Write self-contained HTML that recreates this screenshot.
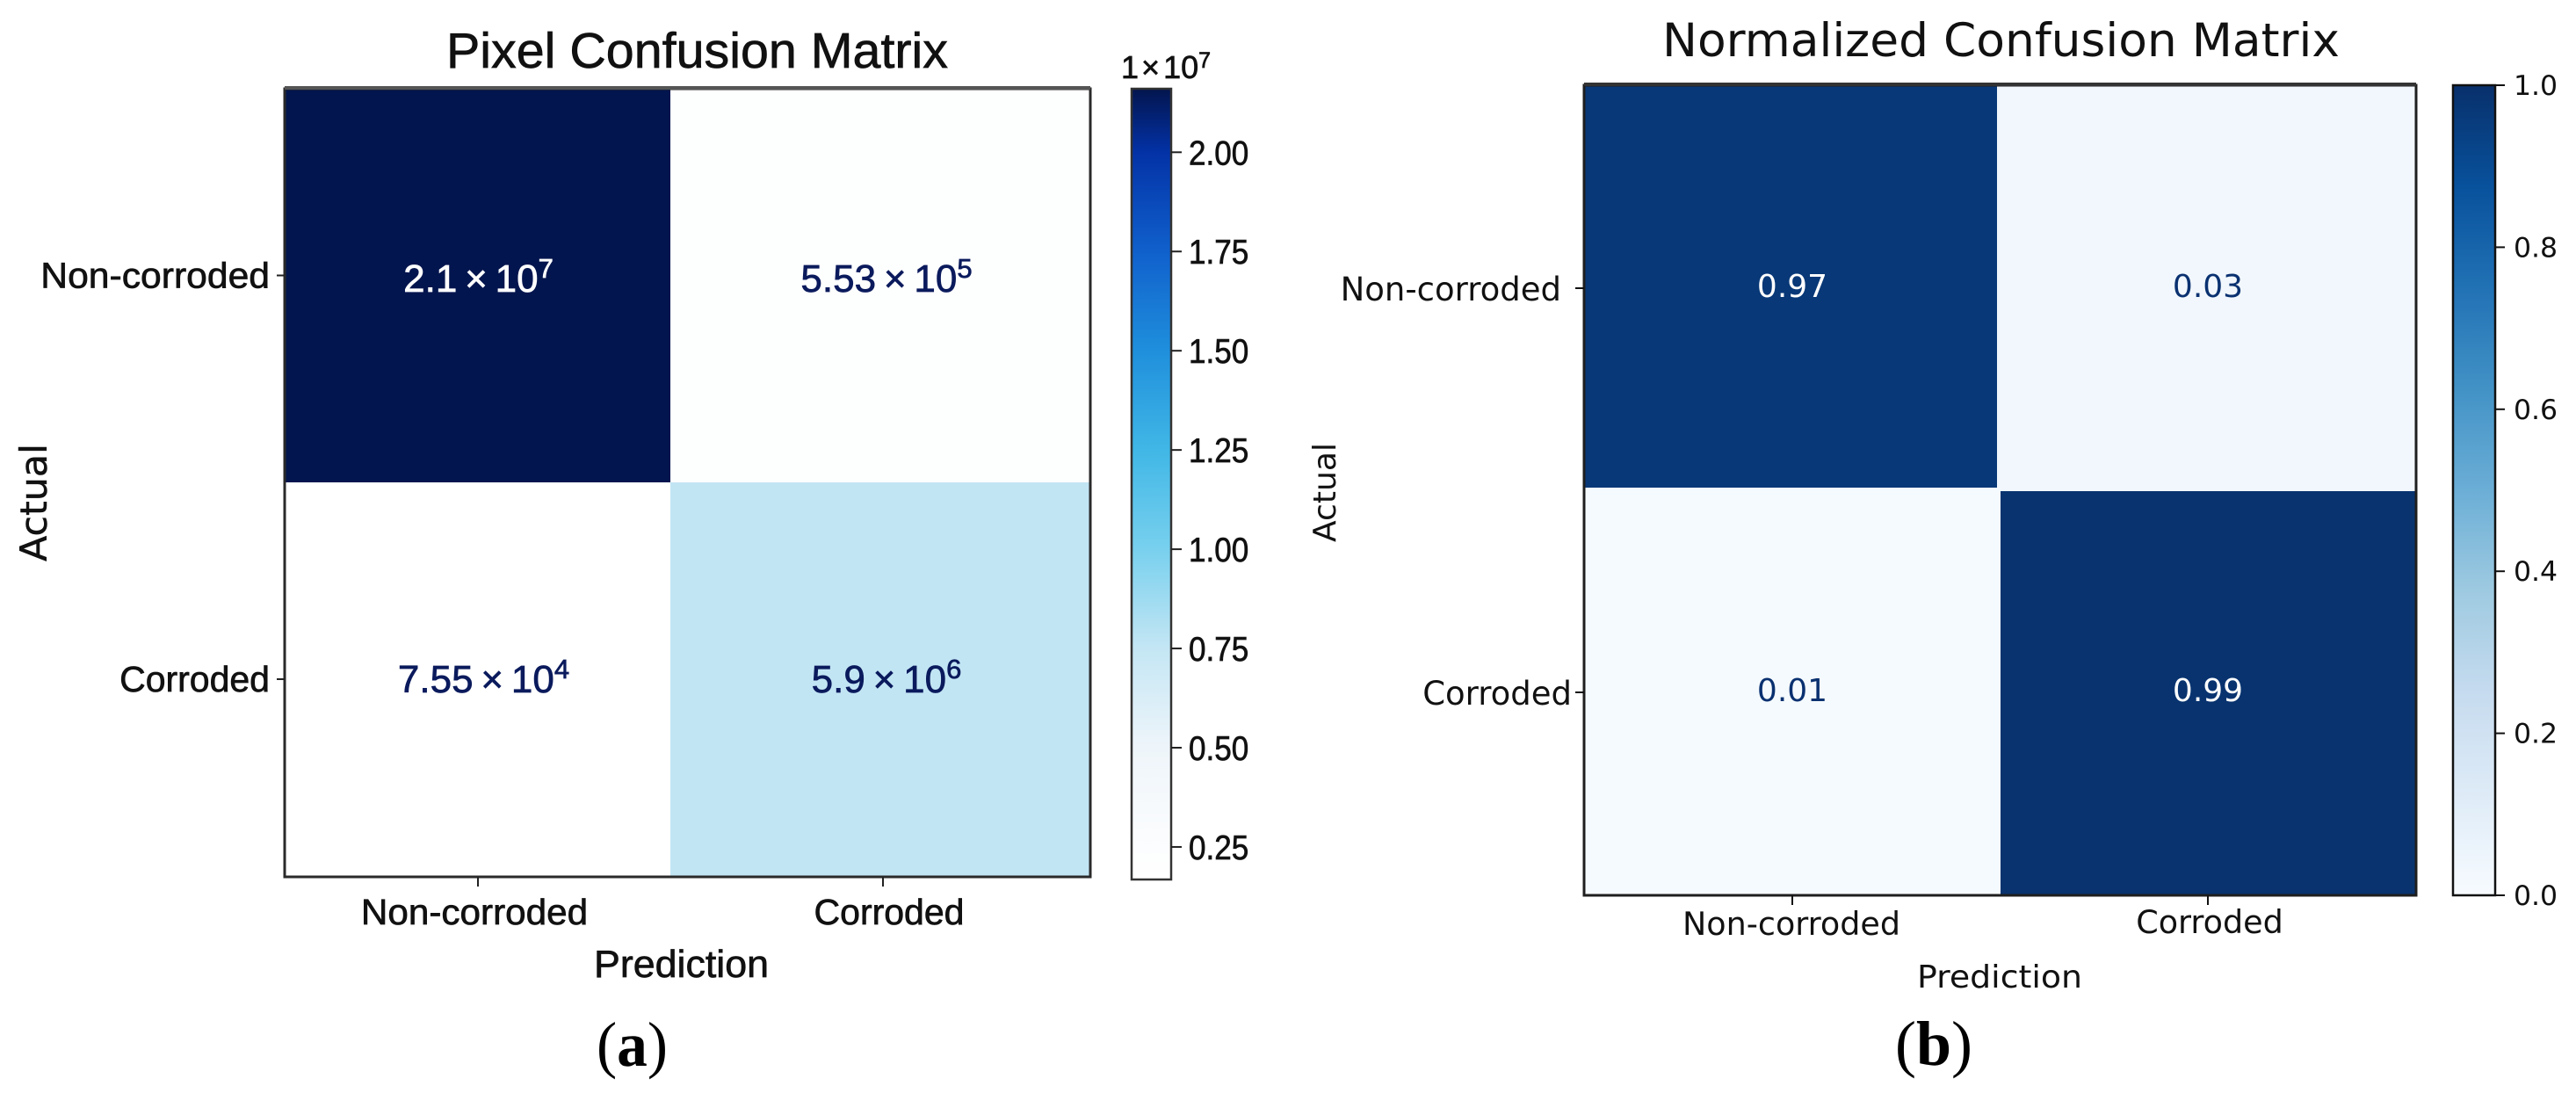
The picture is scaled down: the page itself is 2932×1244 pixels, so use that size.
<!DOCTYPE html>
<html lang="en">
<head>
<meta charset="utf-8">
<title>Confusion matrices</title>
<style>
html,body{margin:0;padding:0;background:#fff;width:2932px;height:1244px;overflow:hidden}
svg{display:block}
.l{font-family:"Liberation Sans",sans-serif;fill:#111;stroke:currentColor;stroke-width:.7px;color:#111}
.r{font-family:"DejaVu Sans",sans-serif;fill:#111}
.s{font-family:"Liberation Serif",serif;fill:#000}
</style>
</head>
<body>
<svg id="fig" xmlns="http://www.w3.org/2000/svg" width="2932" height="1244" viewBox="0 0 2932 1244">
  <defs>
    <linearGradient id="gradA" x1="0" y1="1" x2="0" y2="0"></linearGradient>
    <linearGradient id="gradB" x1="0" y1="1" x2="0" y2="0"></linearGradient>
  </defs>
  <rect width="2932" height="1244" fill="#fff"/>

  <g id="panelA">
    <text class="l" x="508" y="77" font-size="57" textLength="571" lengthAdjust="spacingAndGlyphs">Pixel Confusion Matrix</text>
    <text class="l" x="676" y="1112" font-size="44" textLength="199" lengthAdjust="spacingAndGlyphs">Prediction</text>
    <text class="r" transform="translate(53,639) rotate(-90)" font-size="42" textLength="134" lengthAdjust="spacingAndGlyphs" style="fill:#111;stroke:#111;stroke-width:.5px">Actual</text>
    <text class="l" x="1276" y="89" font-size="36">1<tspan dx="3">×</tspan><tspan dx="4">10</tspan><tspan dy="-12" font-size="25">7</tspan></text>
  </g>

  <g id="panelB">
    <text class="r" x="1892" y="64" font-size="53" textLength="771" lengthAdjust="spacingAndGlyphs">Normalized Confusion Matrix</text>
    <text class="r" x="2182" y="1124" font-size="36" textLength="188" lengthAdjust="spacingAndGlyphs">Prediction</text>
    <text class="r" transform="translate(1520,617) rotate(-90)" font-size="36" textLength="113" lengthAdjust="spacingAndGlyphs">Actual</text>
  </g>

  <text class="s" x="679" y="1213" font-size="72" textLength="81" lengthAdjust="spacingAndGlyphs">(<tspan font-weight="bold">a</tspan>)</text>
  <text class="s" x="2157" y="1212" font-size="72" textLength="88" lengthAdjust="spacingAndGlyphs">(<tspan font-weight="bold">b</tspan>)</text>
</svg>

<script>
// ---- chart data ----
const classLabels = ["Non-corroded", "Corroded"];
const pixelCounts = [[2.1e7, 5.53e5], [7.55e4, 5.9e6]];
const pixelTicks = [0.25, 0.50, 0.75, 1.00, 1.25, 1.50, 1.75, 2.00];
const normalizedValues = [[0.97, 0.03], [0.01, 0.99]];
const normalizedTicks = [0.0, 0.2, 0.4, 0.6, 0.8, 1.0];
const pixelRampValues = [0.168, 0.25, 0.50, 0.75, 1.00, 1.25, 1.50, 1.75, 2.00, 2.16];
const pixelRampColors = ["#ffffff", "#fcfdfe", "#eef5fa", "#c4e6f4", "#78d0ee", "#40b7e6", "#1f8fdc", "#1060cc", "#0332a6", "#03154e"];
const blueRampValues = [0, 0.125, 0.25, 0.375, 0.5, 0.625, 0.75, 0.875, 1];
const blueRampColors = ["#f7fbff", "#deebf7", "#c6dbef", "#9ecae1", "#6baed6", "#4292c6", "#2171b5", "#08519c", "#08306b"];

// ---- helpers ----
const NS = "http://www.w3.org/2000/svg";
function mk(parent, tag, attrs, text) {
  const el = document.createElementNS(NS, tag);
  for (const k in attrs) el.setAttribute(k, attrs[k]);
  if (text !== undefined) el.textContent = text;
  parent.appendChild(el);
  return el;
}
function hexRgb(h) {
  return [1, 3, 5].map(i => parseInt(h.substr(i, 2), 16));
}
function ramp(stops, colors, v) {
  if (v <= stops[0]) return colors[0];
  for (let i = 1; i < stops.length; i++) {
    if (v <= stops[i]) {
      const t = (v - stops[i - 1]) / (stops[i] - stops[i - 1]);
      const a = hexRgb(colors[i - 1]), b = hexRgb(colors[i]);
      return "rgb(" + a.map((x, j) => Math.round(x + (b[j] - x) * t)).join(",") + ")";
    }
  }
  return colors[colors.length - 1];
}
function condense(el, ratio) {
  el.setAttribute("textLength", (el.getComputedTextLength() * ratio).toFixed(1));
  el.setAttribute("lengthAdjust", "spacingAndGlyphs");
}
function fillGradient(id, stops, colors) {
  const g = document.getElementById(id);
  const lo = stops[0], hi = stops[stops.length - 1];
  stops.forEach((s, i) => {
    mk(g, "stop", { offset: (s - lo) / (hi - lo), "stop-color": colors[i] });
  });
}

// ---- panel (a): pixel counts ----
const panelA = document.getElementById("panelA");
const ax = { left: 324, right: 1241, top: 101, bottom: 998, splitX: 763, splitY: 549 };
const cbA = { left: 1288, right: 1333, top: 101, bottom: 1001, vmin: 0.168, vmax: 2.16 };
const pointXA = i => 544 + i * 461;
const pointYA = i => 313.5 + i * 459.5;
const cbYA = v => cbA.bottom - (v - cbA.vmin) / (cbA.vmax - cbA.vmin) * (cbA.bottom - cbA.top);
const cellColorA = v => ramp(pixelRampValues, pixelRampColors, v / 1e7 + cbA.vmin);

pixelCounts.forEach((row, r) => {
  row.forEach((v, c) => {
    const x0 = c === 0 ? ax.left : ax.splitX;
    const x1 = c === 0 ? ax.splitX : ax.right;
    const y0 = r === 0 ? ax.top : ax.splitY;
    const y1 = r === 0 ? ax.splitY : ax.bottom;
    const cell = mk(panelA, "rect", { x: x0, y: y0, width: x1 - x0, height: y1 - y0, fill: cellColorA(v) });
    
    
  });
});
pixelCounts.forEach((row, r) => {
  row.forEach((v, c) => {
    const parts = v.toExponential().split("e+");
    const ink = v > 1.5e7 ? "#ffffff" : "#0a1a5c";
    const t = mk(panelA, "text", {
      class: "l", x: (c === 0 ? ax.left + ax.splitX : ax.splitX + ax.right) / 2 + (r + c > 0 ? 7 : 1),
      y: r === 0 ? 332 : 788, "font-size": 44, "text-anchor": "middle",
      style: "fill:" + ink + ";stroke:" + ink
    }, parts[0] + "\u2009×\u200910");
    const sup = mk(t, "tspan", { dy: -16, "font-size": 31 }, parts[1]);
    
    
    
    
  });
});
const frameA = mk(panelA, "rect", { x: ax.left, y: ax.top, width: ax.right - ax.left, height: ax.bottom - ax.top, fill: "none", stroke: "#2a2a2a", "stroke-width": 3 });


const topEdgeA = mk(panelA, "line", { x1: ax.left, x2: ax.right, y1: ax.top - 1, y2: ax.top - 1, stroke: "#555", "stroke-width": 4 });



classLabels.forEach((name, i) => {
  const tx = mk(panelA, "line", { x1: pointXA(i), x2: pointXA(i), y1: ax.bottom, y2: ax.bottom + 11, stroke: "#222", "stroke-width": 2 });
  
  
  const ty = mk(panelA, "line", { x1: ax.left - 9, x2: ax.left, y1: pointYA(i), y2: pointYA(i), stroke: "#222", "stroke-width": 2 });
  
  
  const lx = mk(panelA, "text", { class: "l", x: pointXA(i) - 4 + i * 11, y: 1052, "font-size": 41, "text-anchor": "middle" }, name);
  
  
  condense(lx, i === 0 ? 1.03 : 1.0);
  const ly = mk(panelA, "text", { class: "l", x: 307, y: pointYA(i) + 14, "font-size": 41, "text-anchor": "end" }, name);
  
  
  condense(ly, i === 0 ? 1.04 : 1.0);
});

fillGradient("gradA", pixelRampValues, pixelRampColors);
const barA = mk(panelA, "rect", { x: cbA.left, y: cbA.top, width: cbA.right - cbA.left, height: cbA.bottom - cbA.top, fill: "url(#gradA)", stroke: "#333", "stroke-width": 2.5 });


pixelTicks.forEach(v => {
  const tk = mk(panelA, "line", { x1: cbA.right, x2: cbA.right + 12, y1: cbYA(v), y2: cbYA(v), stroke: "#222", "stroke-width": 2 });
  
  
  const lb = mk(panelA, "text", { class: "l", x: 1353, y: cbYA(v) + 14, "font-size": 39 }, v.toFixed(2));
  
  
  condense(lb, 0.9);
});

// ---- panel (b): normalized ----
const panelB = document.getElementById("panelB");
const bx = { left: 1803, right: 2750, top: 97, bottom: 1019 };
const cbB = { left: 2792, right: 2840, top: 97, bottom: 1019 };
const pointXB = i => 2040 + i * 473;
const pointYB = i => 328 + i * 460;
const cbYB = v => cbB.bottom - v * (cbB.bottom - cbB.top);
const splitXB = r => 2273 + 4 * r;
const splitYB = c => 555 + 4 * c;

normalizedValues.forEach((row, r) => {
  row.forEach((v, c) => {
    const x0 = c === 0 ? bx.left : splitXB(r);
    const x1 = c === 0 ? splitXB(r) : bx.right;
    const y0 = r === 0 ? bx.top : splitYB(c);
    const y1 = r === 0 ? splitYB(c) : bx.bottom;
    const cell = mk(panelB, "rect", { x: x0, y: y0, width: x1 - x0, height: y1 - y0, fill: ramp(blueRampValues, blueRampColors, v) });
    
    
  });
});
const frameB = mk(panelB, "rect", { x: bx.left, y: bx.top, width: bx.right - bx.left, height: bx.bottom - bx.top, fill: "none", stroke: "#1e1e1e", "stroke-width": 3 });


const topEdgeB = mk(panelB, "line", { x1: bx.left, x2: bx.right, y1: bx.top - 1, y2: bx.top - 1, stroke: "#333", "stroke-width": 4 });


normalizedValues.forEach((row, r) => {
  row.forEach((v, c) => {
    const t = mk(panelB, "text", {
      class: "r", x: pointXB(c), y: pointYB(r) + 10, "font-size": 36, "text-anchor": "middle",
      style: "fill:" + (v > 0.5 ? "#ffffff" : "#0a3170")
    }, v.toFixed(2));
    
    
  });
});
classLabels.forEach((name, i) => {
  const tx = mk(panelB, "line", { x1: pointXB(i), x2: pointXB(i), y1: bx.bottom, y2: bx.bottom + 11, stroke: "#111", "stroke-width": 2 });
  
  
  const ty = mk(panelB, "line", { x1: bx.left - 10, x2: bx.left, y1: pointYB(i), y2: pointYB(i), stroke: "#111", "stroke-width": 2 });
  
  
  const lx = mk(panelB, "text", { class: "r", x: pointXB(i) - 1 + i * 3, y: 1064 - i * 2, "font-size": 36.5, "text-anchor": "middle" }, name);
  
  
  const ly = mk(panelB, "text", { class: "r", x: 1777 + i * 12, y: pointYB(i) + 14, "font-size": 37, "text-anchor": "end" }, name);
  
  
});

fillGradient("gradB", blueRampValues, blueRampColors);
const barB = mk(panelB, "rect", { x: cbB.left, y: cbB.top, width: cbB.right - cbB.left, height: cbB.bottom - cbB.top, fill: "url(#gradB)", stroke: "#111", "stroke-width": 2.5 });


normalizedTicks.forEach(v => {
  const tk = mk(panelB, "line", { x1: cbB.right, x2: cbB.right + 11, y1: cbYB(v), y2: cbYB(v), stroke: "#111", "stroke-width": 2 });
  
  
  const lb = mk(panelB, "text", { class: "r", x: 2861, y: cbYB(v) + 11, "font-size": 31.5 }, v.toFixed(1));
  
  
});
</script>
</body>
</html>
